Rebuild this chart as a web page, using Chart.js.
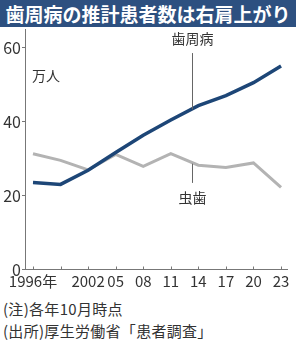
<!DOCTYPE html>
<html>
<head>
<meta charset="utf-8">
<script src="https://cdn.jsdelivr.net/npm/chart.js@4/dist/chart.umd.min.js"></script>
<style>
  html, body { margin: 0; padding: 0; background: #fff; }
  body { width: 296px; height: 342px; position: relative; overflow: hidden;
         font-family: "Noto Sans CJK JP", sans-serif; color: #333; }
  #title { position: absolute; left: 0; top: 0; width: 296px; height: 27px;
           background: #2d5080; color: #fff; font-weight: bold; font-size: 19px;
           line-height: 27px; text-align: center; white-space: nowrap; }
  #wrap { position: absolute; left: 0; top: 0; width: 296px; height: 296px; }
  .note { position: absolute; left: 3px; font-size: 15px; line-height: 18px; white-space: nowrap;
          color: #333; letter-spacing: 0.3px; }
</style>
</head>
<body>
<div id="wrap"><canvas id="c"></canvas></div>
<div id="title">歯周病の推計患者数は右肩上がり</div>
<div class="note" style="top:300px">(注)各年10月時点</div>
<div class="note" style="top:322px">(出所)厚生労働省「患者調査」</div>
<script>
// survey years and tick labels
const years = [1996, 1999, 2002, 2005, 2008, 2011, 2014, 2017, 2020, 2023];
const yearLabels = ['1996年', '', '2002', '05', '08', '11', '14', '17', '20', '23'];
// 万人
const periodontal = [23.5, 23.0, 26.8, 31.6, 36.3, 40.4, 44.3, 47.0, 50.5, 55.0];
const caries = [31.3, 29.5, 26.9, 31.1, 27.9, 31.3, 28.2, 27.6, 28.8, 22.2];
const yTicks = [0, 20, 40, 60];

const numFont = '"Liberation Sans Narrow", "Noto Sans CJK JP", sans-serif';

const decor = {
  id: 'decor',
  afterDraw(chart) {
    const ctx = chart.ctx, x = chart.scales.x, y = chart.scales.y;
    ctx.save();
    // inward x tick marks
    ctx.strokeStyle = '#777';
    ctx.lineWidth = 1;
    years.forEach(v => {
      const px = Math.round(x.getPixelForValue(v)) + 0.5;
      ctx.beginPath();
      ctx.moveTo(px, y.bottom);
      ctx.lineTo(px, y.bottom - 3);
      ctx.stroke();
    });
    // leader lines
    const lx = Math.round(x.getPixelForValue(2013.35)) + 0.5;
    ctx.strokeStyle = '#666';
    ctx.beginPath();
    ctx.moveTo(lx, y.getPixelForValue(58.5));
    ctx.lineTo(lx, y.getPixelForValue(43.3));
    ctx.moveTo(lx, y.getPixelForValue(28.6));
    ctx.lineTo(lx, y.getPixelForValue(23.4));
    ctx.stroke();
    // labels
    ctx.fillStyle = '#333';
    ctx.font = '14px "Noto Sans CJK JP", sans-serif';
    ctx.textBaseline = 'middle';
    ctx.textAlign = 'center';
    ctx.fillText('歯周病', lx, y.getPixelForValue(62.5));
    ctx.fillText('虫歯', lx, y.getPixelForValue(19.3));
    ctx.textAlign = 'left';
    ctx.fillText('万人', x.left + 7, y.getPixelForValue(52.4));
    ctx.restore();
  }
};

new Chart(document.getElementById('c'), {
  type: 'line',
  data: {
    datasets: [
      {
        label: '歯周病',
        data: years.map((v, i) => ({ x: v, y: periodontal[i] })),
        borderColor: '#1d4677',
        borderWidth: 3.5,
        pointRadius: 0,
        tension: 0
      },
      {
        label: '虫歯',
        data: years.map((v, i) => ({ x: v, y: caries[i] })),
        borderColor: '#b3b3b3',
        borderWidth: 3,
        pointRadius: 0,
        tension: 0
      }
    ]
  },
  options: {
    responsive: true,
    maintainAspectRatio: false,
    animation: false,
    layout: { padding: { top: 29, right: 9, left: 0, bottom: 0 } },
    plugins: { legend: { display: false }, tooltip: { enabled: false } },
    scales: {
      x: {
        type: 'linear',
        min: 1995.13,
        max: 2023.65,
        afterBuildTicks: s => { s.ticks = years.map(v => ({ value: v })); },
        afterFit: s => { s.height = 26.5; },
        grid: { display: false, drawTicks: false },
        border: { color: '#777', width: 1 },
        ticks: {
          autoSkip: false,
          maxRotation: 0,
          padding: 3,
          color: '#333',
          font: { family: numFont, size: 15 },
          callback: (v) => yearLabels[years.indexOf(v)] ?? ''
        }
      },
      y: {
        min: 0,
        max: 65,
        afterBuildTicks: s => { s.ticks = yTicks.map(v => ({ value: v })); },
        afterFit: s => { s.width = 25; },
        grid: { drawOnChartArea: false, drawTicks: true, tickLength: 3, color: '#777' },
        border: { color: '#777', width: 1 },
        ticks: {
          padding: 1,
          color: '#333',
          font: { family: numFont, size: 16 }
        }
      }
    }
  },
  plugins: [decor]
});
</script>
</body>
</html>
